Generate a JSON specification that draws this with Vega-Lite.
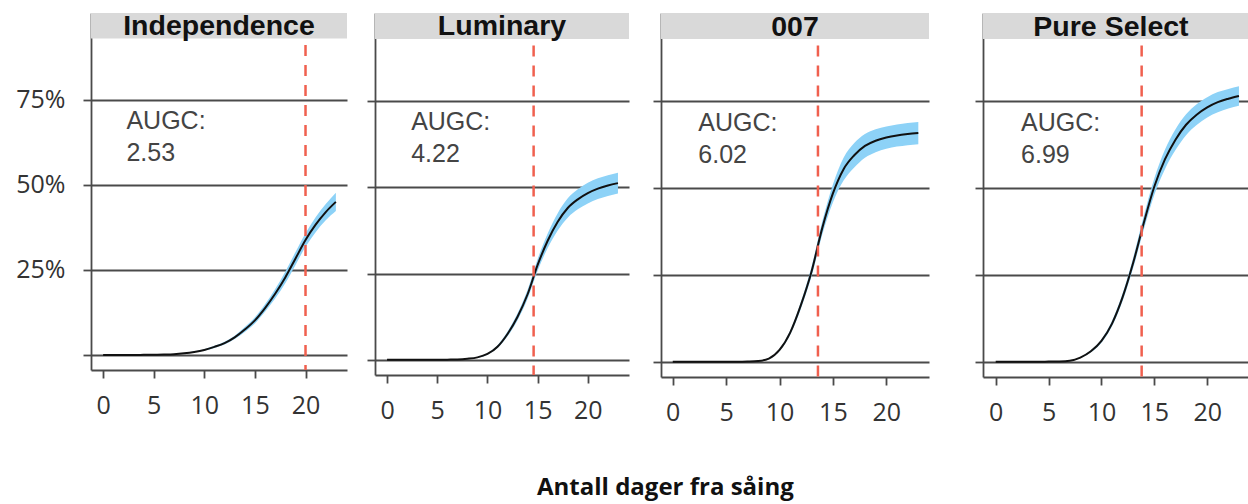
{
  "$schema": "https://vega.github.io/schema/vega-lite/v6.json",
  "padding": {"top": 12, "left": 15, "right": 0, "bottom": 12},
  "background": "white",
  "title": {"text": "Antall dager fra såing", "orient": "bottom", "anchor": "middle", "font": "Open Sans", "fontSize": 24, "fontWeight": "bold", "color": "#111", "offset": 51, "dx": 33},
  "spacing": 19,
  "datasets": {
    "panels": [
      {"c": "Independence", "augc": "AUGC:\n2.53", "v": 20},
      {"c": "Luminary", "augc": "AUGC:\n4.22", "v": 14.6},
      {"c": "007", "augc": "AUGC:\n6.02", "v": 13.6},
      {"c": "Pure Select", "augc": "AUGC:\n6.99", "v": 13.8}
    ],
    "curves": [
      {"c": "Independence", "d": 0, "m": 0, "lo": 0, "hi": 0},
      {"c": "Independence", "d": 1, "m": 0, "lo": 0, "hi": 0},
      {"c": "Independence", "d": 2, "m": 0, "lo": 0, "hi": 0},
      {"c": "Independence", "d": 3, "m": 0, "lo": 0, "hi": 0},
      {"c": "Independence", "d": 4, "m": 0.0005, "lo": 0.0005, "hi": 0.0005},
      {"c": "Independence", "d": 5, "m": 0.001, "lo": 0.0008, "hi": 0.0012},
      {"c": "Independence", "d": 6, "m": 0.0015, "lo": 0.0012, "hi": 0.0018},
      {"c": "Independence", "d": 7, "m": 0.0025, "lo": 0.002, "hi": 0.003},
      {"c": "Independence", "d": 8, "m": 0.005, "lo": 0.0042, "hi": 0.0058},
      {"c": "Independence", "d": 9, "m": 0.009, "lo": 0.0078, "hi": 0.0102},
      {"c": "Independence", "d": 10, "m": 0.015, "lo": 0.013, "hi": 0.017},
      {"c": "Independence", "d": 11, "m": 0.024, "lo": 0.021, "hi": 0.027},
      {"c": "Independence", "d": 12, "m": 0.035, "lo": 0.031, "hi": 0.039},
      {"c": "Independence", "d": 13, "m": 0.052, "lo": 0.047, "hi": 0.057},
      {"c": "Independence", "d": 14, "m": 0.075, "lo": 0.068, "hi": 0.082},
      {"c": "Independence", "d": 15, "m": 0.102, "lo": 0.093, "hi": 0.111},
      {"c": "Independence", "d": 16, "m": 0.138, "lo": 0.127, "hi": 0.149},
      {"c": "Independence", "d": 17, "m": 0.18, "lo": 0.166, "hi": 0.194},
      {"c": "Independence", "d": 18, "m": 0.228, "lo": 0.211, "hi": 0.245},
      {"c": "Independence", "d": 19, "m": 0.283, "lo": 0.264, "hi": 0.302},
      {"c": "Independence", "d": 20, "m": 0.338, "lo": 0.318, "hi": 0.358},
      {"c": "Independence", "d": 21, "m": 0.383, "lo": 0.361, "hi": 0.405},
      {"c": "Independence", "d": 22, "m": 0.42, "lo": 0.396, "hi": 0.444},
      {"c": "Independence", "d": 23, "m": 0.45, "lo": 0.423, "hi": 0.477},
      {"c": "Luminary", "d": 0, "m": 0, "lo": 0, "hi": 0},
      {"c": "Luminary", "d": 1, "m": 0, "lo": 0, "hi": 0},
      {"c": "Luminary", "d": 2, "m": 0, "lo": 0, "hi": 0},
      {"c": "Luminary", "d": 3, "m": 0, "lo": 0, "hi": 0},
      {"c": "Luminary", "d": 4, "m": 0, "lo": 0, "hi": 0},
      {"c": "Luminary", "d": 5, "m": 0, "lo": 0, "hi": 0},
      {"c": "Luminary", "d": 6, "m": 0.0005, "lo": 0.0005, "hi": 0.0005},
      {"c": "Luminary", "d": 7, "m": 0.001, "lo": 0.0008, "hi": 0.0012},
      {"c": "Luminary", "d": 8, "m": 0.003, "lo": 0.0025, "hi": 0.0035},
      {"c": "Luminary", "d": 9, "m": 0.007, "lo": 0.006, "hi": 0.008},
      {"c": "Luminary", "d": 10, "m": 0.017, "lo": 0.015, "hi": 0.019},
      {"c": "Luminary", "d": 11, "m": 0.038, "lo": 0.034, "hi": 0.042},
      {"c": "Luminary", "d": 12, "m": 0.075, "lo": 0.068, "hi": 0.082},
      {"c": "Luminary", "d": 13, "m": 0.125, "lo": 0.115, "hi": 0.135},
      {"c": "Luminary", "d": 14, "m": 0.19, "lo": 0.177, "hi": 0.203},
      {"c": "Luminary", "d": 15, "m": 0.275, "lo": 0.258, "hi": 0.292},
      {"c": "Luminary", "d": 16, "m": 0.345, "lo": 0.324, "hi": 0.366},
      {"c": "Luminary", "d": 17, "m": 0.4, "lo": 0.375, "hi": 0.425},
      {"c": "Luminary", "d": 18, "m": 0.44, "lo": 0.412, "hi": 0.468},
      {"c": "Luminary", "d": 19, "m": 0.465, "lo": 0.436, "hi": 0.494},
      {"c": "Luminary", "d": 20, "m": 0.483, "lo": 0.453, "hi": 0.513},
      {"c": "Luminary", "d": 21, "m": 0.496, "lo": 0.466, "hi": 0.526},
      {"c": "Luminary", "d": 22, "m": 0.505, "lo": 0.475, "hi": 0.535},
      {"c": "Luminary", "d": 23, "m": 0.512, "lo": 0.482, "hi": 0.542},
      {"c": "007", "d": 0, "m": 0, "lo": 0, "hi": 0},
      {"c": "007", "d": 1, "m": 0, "lo": 0, "hi": 0},
      {"c": "007", "d": 2, "m": 0, "lo": 0, "hi": 0},
      {"c": "007", "d": 3, "m": 0, "lo": 0, "hi": 0},
      {"c": "007", "d": 4, "m": 0, "lo": 0, "hi": 0},
      {"c": "007", "d": 5, "m": 0, "lo": 0, "hi": 0},
      {"c": "007", "d": 6, "m": 0, "lo": 0, "hi": 0},
      {"c": "007", "d": 7, "m": 0.0005, "lo": 0.0005, "hi": 0.0005},
      {"c": "007", "d": 8, "m": 0.002, "lo": 0.0017, "hi": 0.0023},
      {"c": "007", "d": 9, "m": 0.009, "lo": 0.008, "hi": 0.01},
      {"c": "007", "d": 10, "m": 0.034, "lo": 0.031, "hi": 0.037},
      {"c": "007", "d": 11, "m": 0.084, "lo": 0.078, "hi": 0.09},
      {"c": "007", "d": 12, "m": 0.163, "lo": 0.153, "hi": 0.173},
      {"c": "007", "d": 13, "m": 0.26, "lo": 0.246, "hi": 0.274},
      {"c": "007", "d": 14, "m": 0.385, "lo": 0.366, "hi": 0.404},
      {"c": "007", "d": 15, "m": 0.485, "lo": 0.459, "hi": 0.511},
      {"c": "007", "d": 16, "m": 0.555, "lo": 0.522, "hi": 0.588},
      {"c": "007", "d": 17, "m": 0.595, "lo": 0.56, "hi": 0.63},
      {"c": "007", "d": 18, "m": 0.622, "lo": 0.588, "hi": 0.656},
      {"c": "007", "d": 19, "m": 0.637, "lo": 0.604, "hi": 0.67},
      {"c": "007", "d": 20, "m": 0.646, "lo": 0.614, "hi": 0.678},
      {"c": "007", "d": 21, "m": 0.652, "lo": 0.62, "hi": 0.684},
      {"c": "007", "d": 22, "m": 0.656, "lo": 0.624, "hi": 0.688},
      {"c": "007", "d": 23, "m": 0.659, "lo": 0.627, "hi": 0.691},
      {"c": "Pure Select", "d": 0, "m": 0, "lo": 0, "hi": 0},
      {"c": "Pure Select", "d": 1, "m": 0, "lo": 0, "hi": 0},
      {"c": "Pure Select", "d": 2, "m": 0, "lo": 0, "hi": 0},
      {"c": "Pure Select", "d": 3, "m": 0, "lo": 0, "hi": 0},
      {"c": "Pure Select", "d": 4, "m": 0, "lo": 0, "hi": 0},
      {"c": "Pure Select", "d": 5, "m": 0.0005, "lo": 0.0005, "hi": 0.0005},
      {"c": "Pure Select", "d": 6, "m": 0.001, "lo": 0.0008, "hi": 0.0012},
      {"c": "Pure Select", "d": 7, "m": 0.003, "lo": 0.0025, "hi": 0.0035},
      {"c": "Pure Select", "d": 8, "m": 0.012, "lo": 0.011, "hi": 0.013},
      {"c": "Pure Select", "d": 9, "m": 0.03, "lo": 0.027, "hi": 0.033},
      {"c": "Pure Select", "d": 10, "m": 0.06, "lo": 0.055, "hi": 0.065},
      {"c": "Pure Select", "d": 11, "m": 0.11, "lo": 0.102, "hi": 0.118},
      {"c": "Pure Select", "d": 12, "m": 0.186, "lo": 0.175, "hi": 0.197},
      {"c": "Pure Select", "d": 13, "m": 0.285, "lo": 0.27, "hi": 0.3},
      {"c": "Pure Select", "d": 14, "m": 0.4, "lo": 0.38, "hi": 0.42},
      {"c": "Pure Select", "d": 15, "m": 0.505, "lo": 0.481, "hi": 0.529},
      {"c": "Pure Select", "d": 16, "m": 0.583, "lo": 0.555, "hi": 0.611},
      {"c": "Pure Select", "d": 17, "m": 0.64, "lo": 0.61, "hi": 0.67},
      {"c": "Pure Select", "d": 18, "m": 0.683, "lo": 0.653, "hi": 0.713},
      {"c": "Pure Select", "d": 19, "m": 0.712, "lo": 0.682, "hi": 0.742},
      {"c": "Pure Select", "d": 20, "m": 0.733, "lo": 0.704, "hi": 0.762},
      {"c": "Pure Select", "d": 21, "m": 0.748, "lo": 0.719, "hi": 0.777},
      {"c": "Pure Select", "d": 22, "m": 0.758, "lo": 0.73, "hi": 0.786},
      {"c": "Pure Select", "d": 23, "m": 0.766, "lo": 0.738, "hi": 0.794}
    ]
  },
  "hconcat": [
    {
      "width": 256, "height": 357,
      "layer": [
        {"data": {"name": "curves"}, "transform": [{"filter": "datum.c === 'Independence'"}],
         "mark": {"type": "area", "interpolate": "monotone", "color": "#8dd2f7"},
         "encoding": {
           "x": {"field": "d", "type": "quantitative", "title": null, "scale": {"domain": [-1.2, 24.1], "nice": false, "zero": false}, "axis": {"values": [0, 5, 10, 15, 20], "title": null}},
           "y": {"field": "lo", "type": "quantitative", "title": null, "scale": {"domain": [-0.044, 1.005], "nice": false, "zero": false}, "axis": {"values": [0, 0.25, 0.5, 0.75], "title": null, "labelExpr": "datum.value == 0 ? '' : format(datum.value, '.0%')"}},
           "y2": {"field": "hi"}}},
        {"data": {"name": "curves"}, "transform": [{"filter": "datum.c === 'Independence'"}],
         "mark": {"type": "line", "interpolate": "monotone", "color": "#111", "strokeWidth": 2},
         "encoding": {"x": {"field": "d", "type": "quantitative", "title": null}, "y": {"field": "m", "type": "quantitative", "title": null}}},
        {"data": {"name": "panels"}, "transform": [{"filter": "datum.c === 'Independence'"}],
         "mark": {"type": "rule", "color": "#f0604f", "strokeWidth": 2.5, "strokeDash": [11, 9], "strokeDashOffset": 13.5},
         "encoding": {"x": {"field": "v", "type": "quantitative", "title": null}, "y": {"datum": 0.93, "type": "quantitative", "title": null}, "y2": {"datum": -0.044}}},
        {"data": {"name": "panels"}, "transform": [{"filter": "datum.c === 'Independence'"}],
         "mark": {"type": "text", "font": "Liberation Sans", "fontSize": 25, "color": "#444", "align": "left", "baseline": "alphabetic", "lineBreak": "\n", "lineHeight": 32},
         "encoding": {"x": {"datum": 2.3, "type": "quantitative", "title": null}, "y": {"datum": 0.665, "type": "quantitative", "title": null}, "text": {"field": "augc"}}},
        {"data": {"name": "panels"}, "transform": [{"filter": "datum.c === 'Independence'"}],
         "mark": {"type": "rect", "color": "#d9d9d9"},
         "encoding": {"x": {"datum": -1.2, "type": "quantitative", "title": null}, "x2": {"datum": 24.1}, "y": {"datum": 0.93, "type": "quantitative", "title": null}, "y2": {"datum": 1.005}}},
        {"data": {"name": "panels"}, "transform": [{"filter": "datum.c === 'Independence'"}],
         "mark": {"type": "text", "font": "Liberation Sans", "fontWeight": "bold", "fontSize": 28.5, "color": "#111", "align": "center", "baseline": "alphabetic"},
         "encoding": {"x": {"datum": 11.45, "type": "quantitative", "title": null}, "y": {"datum": 0.94, "type": "quantitative", "title": null}, "text": {"field": "c"}}}
      ]
    },
    {
      "width": 254, "height": 362,
      "layer": [
        {"data": {"name": "curves"}, "transform": [{"filter": "datum.c === 'Luminary'"}],
         "mark": {"type": "area", "interpolate": "monotone", "color": "#8dd2f7"},
         "encoding": {
           "x": {"field": "d", "type": "quantitative", "title": null, "scale": {"domain": [-1.2, 24.1], "nice": false, "zero": false}, "axis": {"values": [0, 5, 10, 15, 20], "title": null}},
           "y": {"field": "lo", "type": "quantitative", "title": null, "scale": {"domain": [-0.044, 1.005], "nice": false, "zero": false}, "axis": {"values": [0, 0.25, 0.5, 0.75], "title": null, "labels": false, "minExtent": 8}},
           "y2": {"field": "hi"}}},
        {"data": {"name": "curves"}, "transform": [{"filter": "datum.c === 'Luminary'"}],
         "mark": {"type": "line", "interpolate": "monotone", "color": "#111", "strokeWidth": 2},
         "encoding": {"x": {"field": "d", "type": "quantitative", "title": null}, "y": {"field": "m", "type": "quantitative", "title": null}}},
        {"data": {"name": "panels"}, "transform": [{"filter": "datum.c === 'Luminary'"}],
         "mark": {"type": "rule", "color": "#f0604f", "strokeWidth": 2.5, "strokeDash": [11, 9], "strokeDashOffset": 13.5},
         "encoding": {"x": {"field": "v", "type": "quantitative", "title": null}, "y": {"datum": 0.93, "type": "quantitative", "title": null}, "y2": {"datum": -0.044}}},
        {"data": {"name": "panels"}, "transform": [{"filter": "datum.c === 'Luminary'"}],
         "mark": {"type": "text", "font": "Liberation Sans", "fontSize": 25, "color": "#444", "align": "left", "baseline": "alphabetic", "lineBreak": "\n", "lineHeight": 32},
         "encoding": {"x": {"datum": 2.4, "type": "quantitative", "title": null}, "y": {"datum": 0.665, "type": "quantitative", "title": null}, "text": {"field": "augc"}}},
        {"data": {"name": "panels"}, "transform": [{"filter": "datum.c === 'Luminary'"}],
         "mark": {"type": "rect", "color": "#d9d9d9"},
         "encoding": {"x": {"datum": -1.2, "type": "quantitative", "title": null}, "x2": {"datum": 24.1}, "y": {"datum": 0.93, "type": "quantitative", "title": null}, "y2": {"datum": 1.005}}},
        {"data": {"name": "panels"}, "transform": [{"filter": "datum.c === 'Luminary'"}],
         "mark": {"type": "text", "font": "Liberation Sans", "fontWeight": "bold", "fontSize": 28.5, "color": "#111", "align": "center", "baseline": "alphabetic"},
         "encoding": {"x": {"datum": 11.45, "type": "quantitative", "title": null}, "y": {"datum": 0.94, "type": "quantitative", "title": null}, "text": {"field": "c"}}}
      ]
    },
    {
      "width": 268, "height": 364,
      "layer": [
        {"data": {"name": "curves"}, "transform": [{"filter": "datum.c === '007'"}],
         "mark": {"type": "area", "interpolate": "monotone", "color": "#8dd2f7"},
         "encoding": {
           "x": {"field": "d", "type": "quantitative", "title": null, "scale": {"domain": [-1.1, 24.0], "nice": false, "zero": false}, "axis": {"values": [0, 5, 10, 15, 20], "title": null}},
           "y": {"field": "lo", "type": "quantitative", "title": null, "scale": {"domain": [-0.044, 1.005], "nice": false, "zero": false}, "axis": {"values": [0, 0.25, 0.5, 0.75], "title": null, "labels": false, "minExtent": 13}},
           "y2": {"field": "hi"}}},
        {"data": {"name": "curves"}, "transform": [{"filter": "datum.c === '007'"}],
         "mark": {"type": "line", "interpolate": "monotone", "color": "#111", "strokeWidth": 2},
         "encoding": {"x": {"field": "d", "type": "quantitative", "title": null}, "y": {"field": "m", "type": "quantitative", "title": null}}},
        {"data": {"name": "panels"}, "transform": [{"filter": "datum.c === '007'"}],
         "mark": {"type": "rule", "color": "#f0604f", "strokeWidth": 2.5, "strokeDash": [11, 9], "strokeDashOffset": 13.5},
         "encoding": {"x": {"field": "v", "type": "quantitative", "title": null}, "y": {"datum": 0.93, "type": "quantitative", "title": null}, "y2": {"datum": -0.044}}},
        {"data": {"name": "panels"}, "transform": [{"filter": "datum.c === '007'"}],
         "mark": {"type": "text", "font": "Liberation Sans", "fontSize": 25, "color": "#444", "align": "left", "baseline": "alphabetic", "lineBreak": "\n", "lineHeight": 32},
         "encoding": {"x": {"datum": 2.4, "type": "quantitative", "title": null}, "y": {"datum": 0.665, "type": "quantitative", "title": null}, "text": {"field": "augc"}}},
        {"data": {"name": "panels"}, "transform": [{"filter": "datum.c === '007'"}],
         "mark": {"type": "rect", "color": "#d9d9d9"},
         "encoding": {"x": {"datum": -1.1, "type": "quantitative", "title": null}, "x2": {"datum": 24.0}, "y": {"datum": 0.93, "type": "quantitative", "title": null}, "y2": {"datum": 1.005}}},
        {"data": {"name": "panels"}, "transform": [{"filter": "datum.c === '007'"}],
         "mark": {"type": "text", "font": "Liberation Sans", "fontWeight": "bold", "fontSize": 28.5, "color": "#111", "align": "center", "baseline": "alphabetic"},
         "encoding": {"x": {"datum": 11.45, "type": "quantitative", "title": null}, "y": {"datum": 0.94, "type": "quantitative", "title": null}, "text": {"field": "c"}}}
      ]
    },
    {
      "width": 266, "height": 364,
      "layer": [
        {"data": {"name": "curves"}, "transform": [{"filter": "datum.c === 'Pure Select'"}],
         "mark": {"type": "area", "interpolate": "monotone", "color": "#8dd2f7"},
         "encoding": {
           "x": {"field": "d", "type": "quantitative", "title": null, "scale": {"domain": [-1.2, 23.95], "nice": false, "zero": false}, "axis": {"values": [0, 5, 10, 15, 20], "title": null}},
           "y": {"field": "lo", "type": "quantitative", "title": null, "scale": {"domain": [-0.044, 1.005], "nice": false, "zero": false}, "axis": {"values": [0, 0.25, 0.5, 0.75], "title": null, "labels": false, "minExtent": 35}},
           "y2": {"field": "hi"}}},
        {"data": {"name": "curves"}, "transform": [{"filter": "datum.c === 'Pure Select'"}],
         "mark": {"type": "line", "interpolate": "monotone", "color": "#111", "strokeWidth": 2},
         "encoding": {"x": {"field": "d", "type": "quantitative", "title": null}, "y": {"field": "m", "type": "quantitative", "title": null}}},
        {"data": {"name": "panels"}, "transform": [{"filter": "datum.c === 'Pure Select'"}],
         "mark": {"type": "rule", "color": "#f0604f", "strokeWidth": 2.5, "strokeDash": [11, 9], "strokeDashOffset": 13.5},
         "encoding": {"x": {"field": "v", "type": "quantitative", "title": null}, "y": {"datum": 0.93, "type": "quantitative", "title": null}, "y2": {"datum": -0.044}}},
        {"data": {"name": "panels"}, "transform": [{"filter": "datum.c === 'Pure Select'"}],
         "mark": {"type": "text", "font": "Liberation Sans", "fontSize": 25, "color": "#444", "align": "left", "baseline": "alphabetic", "lineBreak": "\n", "lineHeight": 32},
         "encoding": {"x": {"datum": 2.4, "type": "quantitative", "title": null}, "y": {"datum": 0.665, "type": "quantitative", "title": null}, "text": {"field": "augc"}}},
        {"data": {"name": "panels"}, "transform": [{"filter": "datum.c === 'Pure Select'"}],
         "mark": {"type": "rect", "color": "#d9d9d9"},
         "encoding": {"x": {"datum": -1.2, "type": "quantitative", "title": null}, "x2": {"datum": 23.95}, "y": {"datum": 0.93, "type": "quantitative", "title": null}, "y2": {"datum": 1.005}}},
        {"data": {"name": "panels"}, "transform": [{"filter": "datum.c === 'Pure Select'"}],
         "mark": {"type": "text", "font": "Liberation Sans", "fontWeight": "bold", "fontSize": 28.5, "color": "#111", "align": "center", "baseline": "alphabetic"},
         "encoding": {"x": {"datum": 10.9, "type": "quantitative", "title": null}, "y": {"datum": 0.94, "type": "quantitative", "title": null}, "text": {"field": "c"}}}
      ]
    }
  ],
  "config": {
    "view": {"stroke": null},
    "axis": {"domainColor": "#4a4a4a", "domainWidth": 1.8, "tickColor": "#4a4a4a", "tickWidth": 1.8, "tickSize": 8, "gridColor": "#4a4a4a", "gridWidth": 1.8, "labelFont": "Open Sans", "labelFontSize": 25, "labelColor": "#333", "labelFlush": false, "labelOverlap": false},
    "axisX": {"grid": false, "labelPadding": 15},
    "axisY": {"grid": true, "labelPadding": 18}
  }
}
